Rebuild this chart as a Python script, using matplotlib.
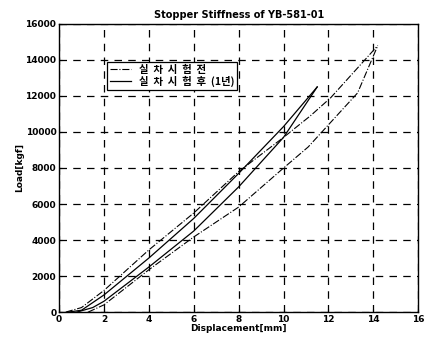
import numpy as np
import matplotlib
matplotlib.use('Agg')
from matplotlib import pyplot as plt

plt.rcParams['font.family'] = ['DejaVu Sans', 'Noto Sans CJK KR']
plt.rcParams['font.weight'] = 'bold'

# after (1 year) - loop up to ~11.5 mm
after_up_x = [0.4, 1.0, 2.0, 4.0, 6.0, 8.0, 10.0, 11.5]
after_up_y = [0, 100, 950, 3000, 5200, 7700, 10300, 12500]
after_lo_x = [0.8, 1.5, 2.0, 4.0, 6.0, 8.0, 10.0, 11.5]
after_lo_y = [0, 250, 600, 2500, 4500, 6950, 9700, 12500]

# before test - loop up to ~14.2 mm
before_up_x = [0.3, 1.0, 2.0, 4.0, 6.0, 8.0, 10.0, 11.2, 12.1, 14.2]
before_up_y = [0, 250, 1200, 3450, 5500, 7800, 9700, 10900, 11900, 14800]
before_lo_x = [1.3, 2.0, 4.0, 6.0, 8.0, 9.9, 11.1, 12.2, 13.3, 14.2]
before_lo_y = [0, 400, 2350, 4170, 5830, 7890, 9170, 10670, 12170, 14800]

label_before = '실  차  시  험  전'
label_after = '실  차  시  험  후  (1년)'

fig = plt.figure(figsize=(4.25, 3.37), dpi=100)
ax = fig.add_axes([0.139, 0.074, 0.845, 0.855])

ax.plot(before_up_x, before_up_y, color='k', lw=0.8, ls='-.', label=label_before)
ax.plot(before_lo_x, before_lo_y, color='k', lw=0.8, ls='-.')
ax.plot(after_up_x, after_up_y, color='k', lw=0.9, ls='-', label=label_after)
ax.plot(after_lo_x, after_lo_y, color='k', lw=0.9, ls='-')

ax.set_xlim(0, 16)
ax.set_ylim(0, 16000)
ax.set_xticks(range(0, 17, 2))
ax.set_yticks(range(0, 16001, 2000))
ax.grid(True, color='k', ls=(0, (6, 5)), lw=0.9)
ax.tick_params(labelsize=6.5, length=2, direction='in', pad=2)
for s in ax.spines.values():
    s.set_linewidth(1.0)

ax.set_title('Stopper Stiffness of YB-581-01', fontsize=7, fontweight='bold', pad=4)
ax.set_xlabel('Displacement[mm]', fontsize=6.5, fontweight='bold', labelpad=0)
ax.set_ylabel('Load[kgf]', fontsize=6.5, fontweight='bold', labelpad=1)

leg = ax.legend(loc='upper left', bbox_to_anchor=(0.12, 0.885),
                prop={'family': ['Noto Sans CJK KR', 'DejaVu Sans'], 'weight': 'bold', 'size': 7.5},
                fancybox=False, framealpha=1, edgecolor='k', borderpad=0.25,
                handlelength=2.0, labelspacing=0.1)
leg.get_frame().set_linewidth(0.9)

fig.savefig('out.png', dpi=100)
